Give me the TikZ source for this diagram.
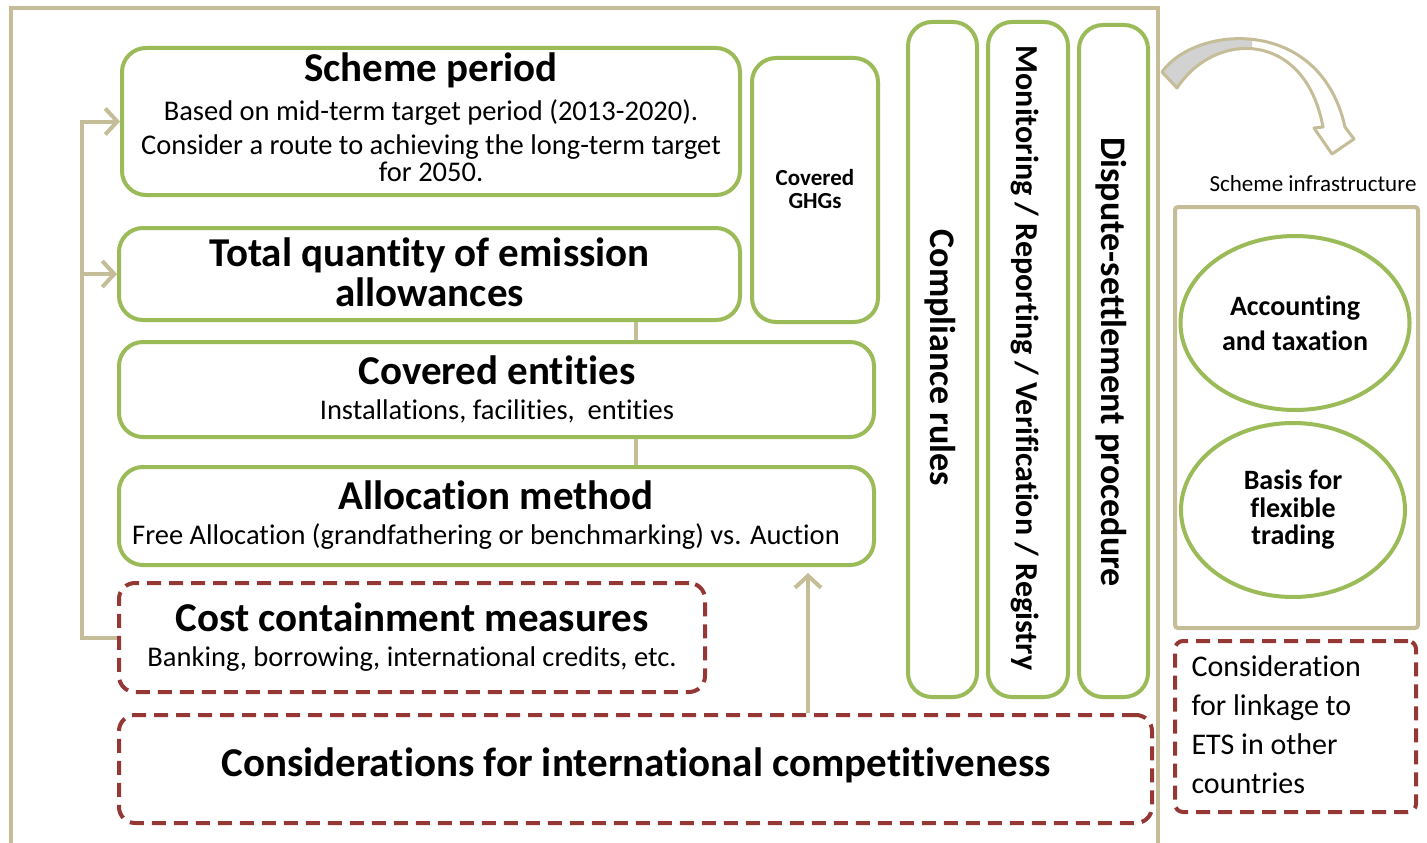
\documentclass[tikz,border=0pt]{standalone}
\usepackage{fontspec}
\setmainfont{Carlito}[Ligatures=NoCommon]
\usetikzlibrary{shapes.geometric,arrows.meta}
\definecolor{leafgreen}{HTML}{9BBB59}
\definecolor{sand}{HTML}{C4BD97}
\definecolor{brick}{HTML}{953735}
\begin{document}
\begin{tikzpicture}[x=1pt,y=-1pt,
    greenbox/.style={draw=leafgreen, line width=4pt, rounded corners=24pt, inner sep=0pt},
    redbox/.style={draw=brick, line width=4pt, rounded corners=16pt, dash pattern=on 14pt off 8pt, inner sep=0pt},
    title/.style={font=\bfseries\fontsize{41}{40}\selectfont, align=center},
    body/.style={font=\fontsize{28.5}{34}\selectfont, align=center},
    column/.style={font=\bfseries\fontsize{36}{40}\selectfont, rotate=-90},
    link/.style={draw=sand, line width=4pt},
    tip/.style={-{Straight Barb[length=12pt,width=26pt]}},
    ]
    \useasboundingbox (0,0) rectangle (1427,843);

    % Frame
    \draw[sand, line width=4pt] (11,843) -- (11,8) -- (1158,8) -- (1158,843);

    % Scheme period
    \node[greenbox, minimum width=618pt, minimum height=147pt] (period) at (431,121.5) {};
    \node[title] (periodtitle) at (431,70) {Scheme period};
    \node[body] (periodtext) at (431,141) {Based on mid-term target period (2013-2020).\\
        Consider a route to achieving the long-term target\\[-7pt] for 2050.};

    % Covered GHGs
    \node[greenbox, minimum width=126pt, minimum height=264pt] (ghg) at (815,190) {};
    \node[font=\bfseries\fontsize{23}{23}\selectfont, align=center] (ghgtext) at (815,189) {Covered\\GHGs};

    % Total quantity
    \node[greenbox, minimum width=621pt, minimum height=92pt] (total) at (429.5,274) {};
    \node[title] (totaltext) at (429.5,272) {Total quantity of emission\\allowances};

    % Covered entities
    \node[greenbox, minimum width=755pt, minimum height=95pt] (entities) at (496.5,389.5) {};
    \node[title] (entitiestitle) at (497,370) {Covered entities};
    \node[body] (entitiestext) at (497,411) {Installations, facilities,\ \ entities};

    % Allocation method
    \node[greenbox, minimum width=755pt, minimum height=98pt] (alloc) at (496.5,516) {};
    \node[title] (alloctitle) at (496,495) {Allocation method};
    \node[body] (alloctext) at (486,537) {Free Allocation (grandfathering or benchmarking) vs. Auction};

    % Cost containment
    \node[redbox, minimum width=586pt, minimum height=109pt] (cost) at (412,637.5) {};
    \node[title] (costtitle) at (412,617) {Cost containment measures};
    \node[body] (costtext) at (412,659) {Banking, borrowing, international credits, etc.};

    % Competitiveness
    \node[redbox, minimum width=1033pt, minimum height=108pt] (intl) at (635.5,769) {};
    \node[title] (intltext) at (636,765) {Considerations for international competitiveness};

    % Columns
    \node[greenbox, minimum width=69pt, minimum height=675pt] (comply) at (942.5,359.5) {};
    \node[column] (complytext) at (940,358) {Compliance rules};
    \node[greenbox, minimum width=80pt, minimum height=675pt] (mrv) at (1028,359.5) {};
    \node[column, font=\bfseries\fontsize{32}{36}\selectfont] (mrvtext) at (1025,358) {Monitoring / Reporting / Verification / Registry};
    \node[greenbox, minimum width=69pt, minimum height=672pt] (dispute) at (1113.5,361) {};
    \node[column] (disputetext) at (1111,362) {Dispute-settlement procedure};

    % Infrastructure
    \node[font=\fontsize{23}{26}\selectfont] (infralabel) at (1313,184) {Scheme infrastructure};
    \node[draw=sand, line width=4pt, rounded corners=3pt, minimum width=243pt, minimum height=421pt] (infra) at (1296.5,417.5) {};
    \node[ellipse, draw=leafgreen, line width=4pt, inner sep=0pt, minimum width=229pt, minimum height=174pt,
        font=\bfseries\fontsize{28}{35}\selectfont, align=center] (account) at (1295,323) {Accounting\\and taxation};
    \node[ellipse, draw=leafgreen, line width=4pt, inner sep=0pt, minimum width=224pt, minimum height=174pt,
        font=\bfseries\fontsize{28}{27.5}\selectfont, align=center] (trading) at (1293,510) {Basis for\\flexible\\trading};

    % Linkage
    \node[redbox, rounded corners=8pt, minimum width=241pt, minimum height=171pt] (linkage) at (1295.5,726.5) {};
    \node[font=\fontsize{30}{39}\selectfont, align=left, anchor=west] (linkagetext) at (1188,725) {Consideration\\for linkage to\\ETS in other\\countries};

    % Connectors
    \coordinate (trunk) at (82,121.5);
    \draw[link, tip] (cost.west) -| (trunk) -- (period.west);
    \draw[link, tip] (trunk |- total.west) -- (total.west);
    \draw[link] ([xshift=206.5pt]total.south) -- ([xshift=206.5pt]total.south |- entities.north);
    \draw[link] ([xshift=139.5pt]entities.south) -- ([xshift=139.5pt]entities.south |- alloc.north);
    \draw[link, tip, shorten >=6pt] ([xshift=172.5pt]intl.north) -- ([xshift=172.5pt]intl.north |- alloc.south);

    % Bent arrow
    \def\bendpath{(1162,72) .. controls (1195,25) and (1320,15) .. (1345,127) -- (1354,139) -- (1332,154)
        -- (1314,128) -- (1323,127) .. controls (1305,30) and (1215,30) .. (1177,88) -- cycle}
    \fill[white] \bendpath;
    \begin{scope}
        \clip (1150,0) rectangle (1252,100);
        \fill[gray!35] \bendpath;
    \end{scope}
    \draw[sand, line width=3pt, line join=round] \bendpath;
\end{tikzpicture}
\end{document}
